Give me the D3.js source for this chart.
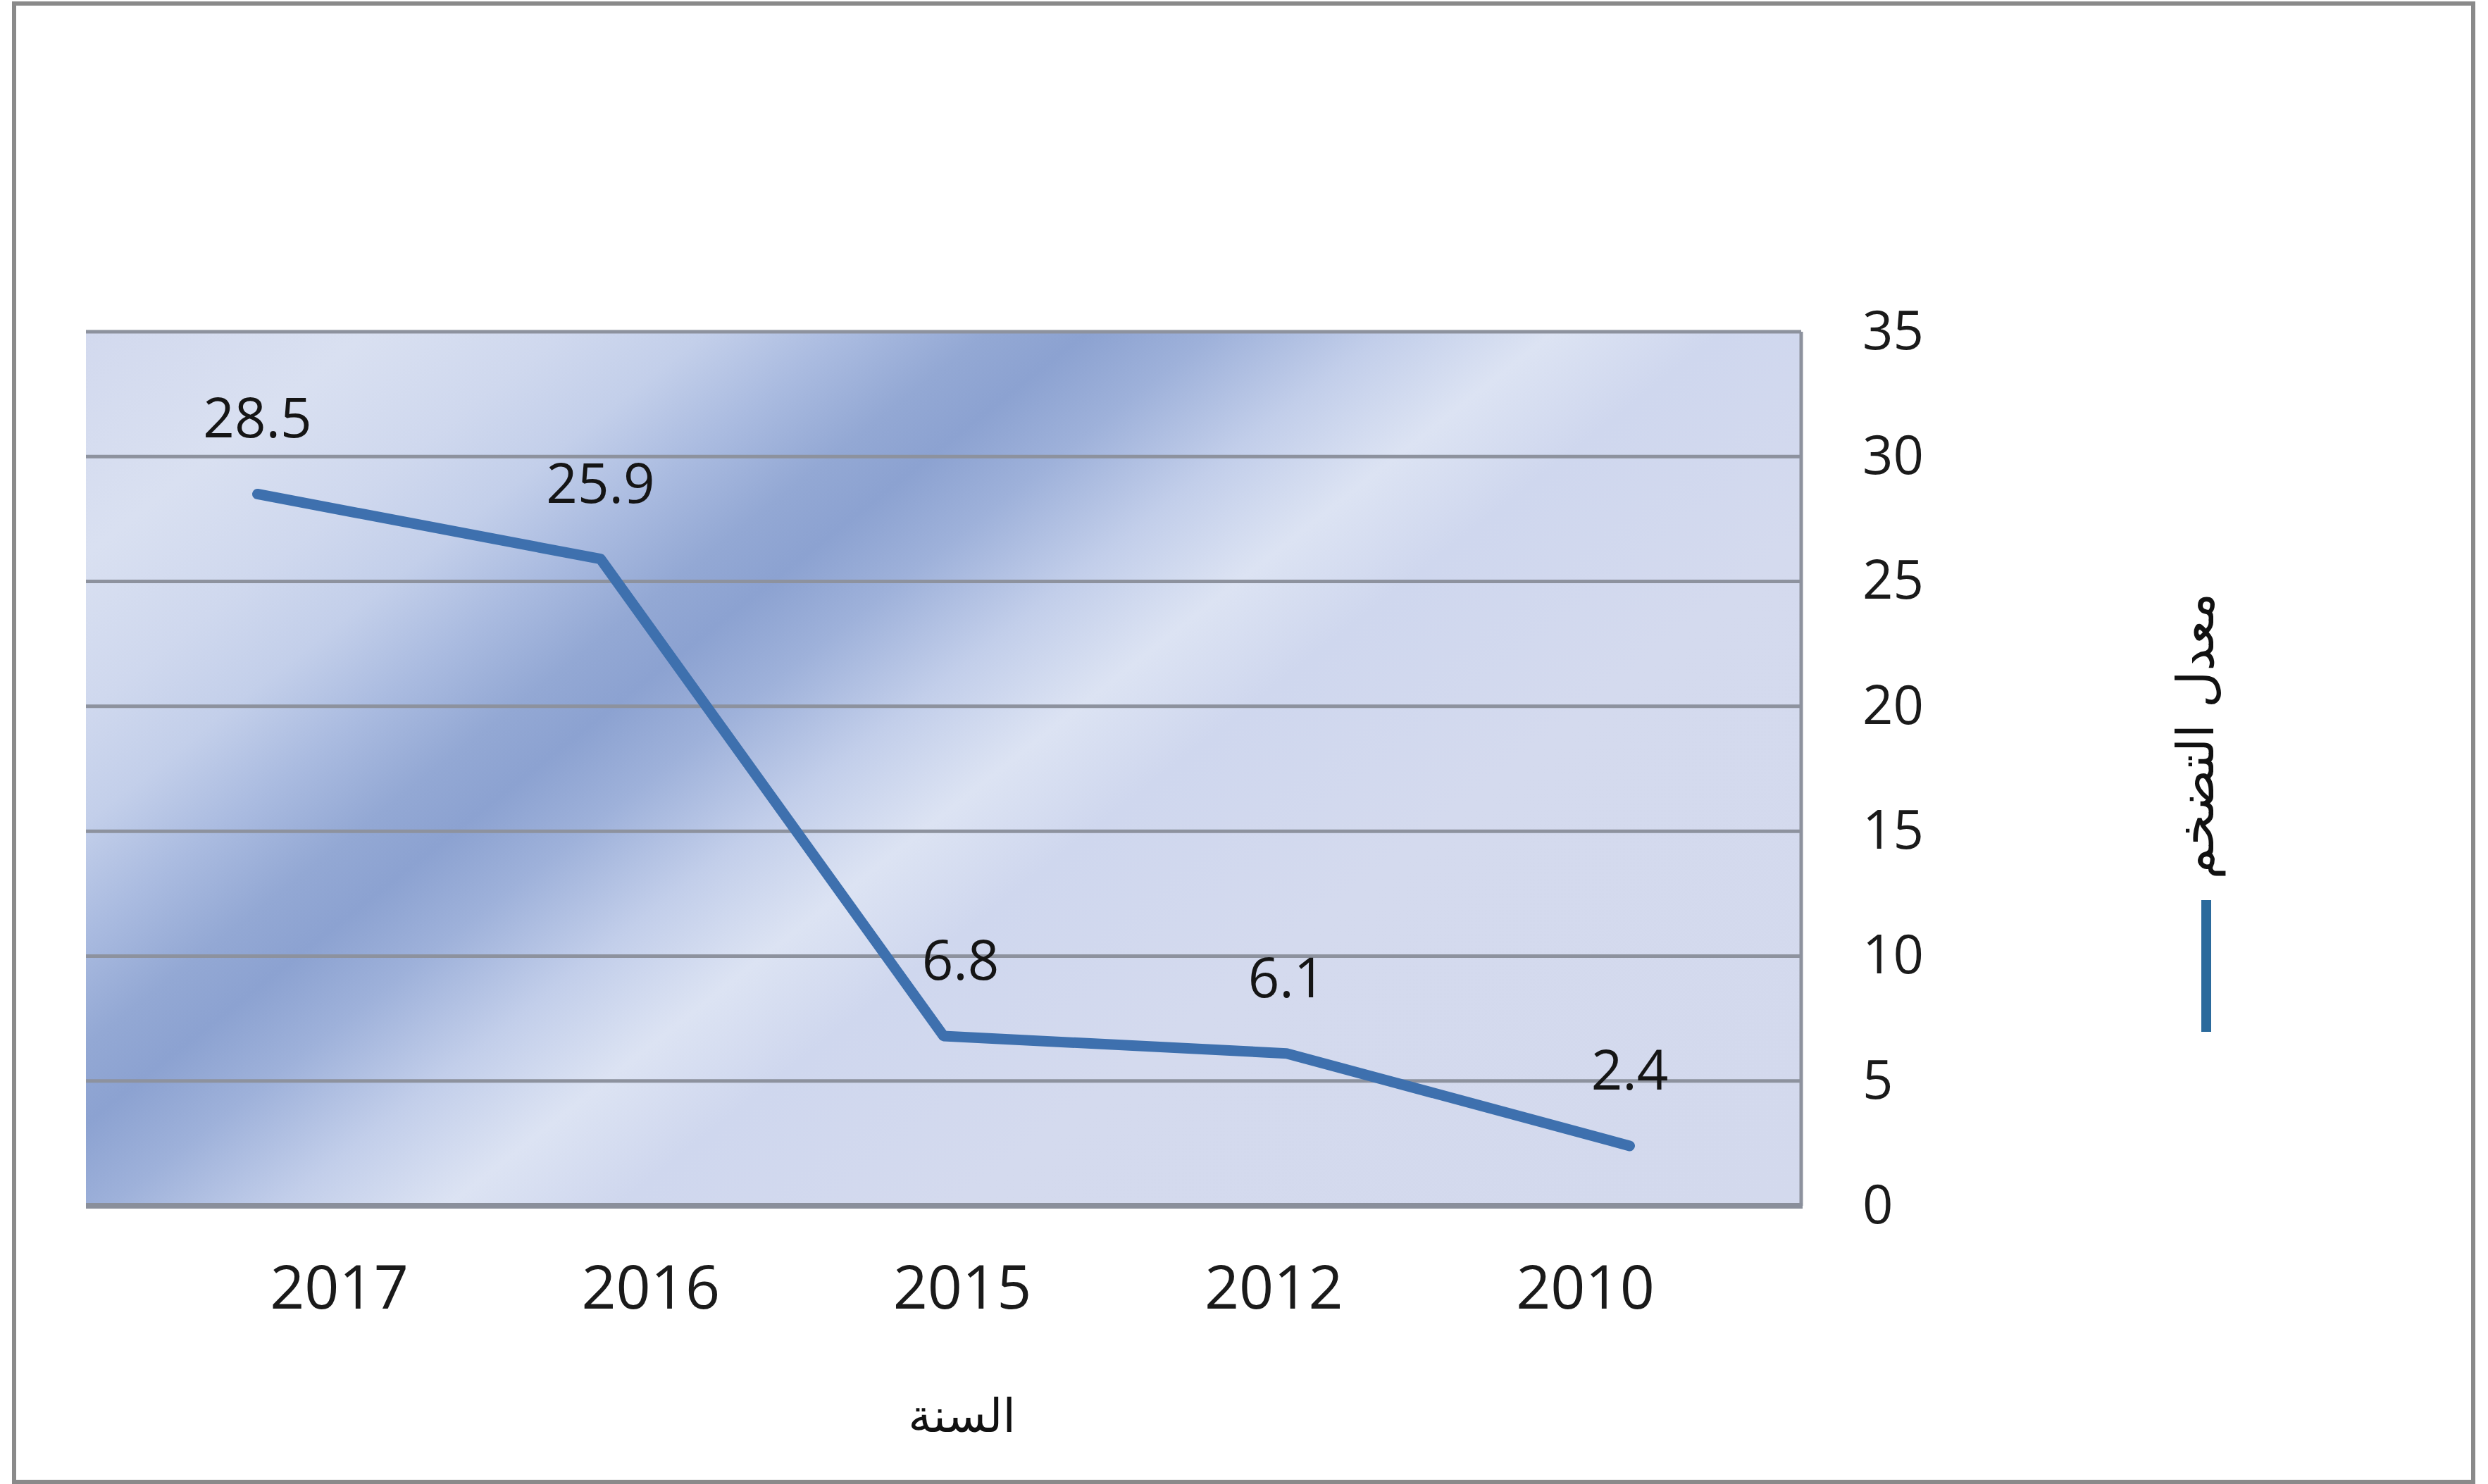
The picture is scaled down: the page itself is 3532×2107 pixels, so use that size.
<!DOCTYPE html>
<html>
<head>
<meta charset="utf-8">
<script src="https://cdn.jsdelivr.net/npm/d3@7"></script>
<style>
  html, body { margin: 0; padding: 0; background: #ffffff; }
  svg { display: block; }
</style>
</head>
<body>
<script>
// Inflation rate by year (labels and plotted values)
const years = ["2017", "2016", "2015", "2012", "2010"];
const inflation = [28.5, 25.9, 6.8, 6.1, 2.4];
const yTicks = [0, 5, 10, 15, 20, 25, 30, 35];
const seriesName = "معدل التضخم";
const xTitle = "السنة";

const W = 3532, H = 2107;
const plot = { left: 122, right: 2557, top: 471, bottom: 1712 };

const svg = d3.select("body").append("svg")
  .attr("width", W).attr("height", H);

// outer chart frame
svg.append("rect")
  .attr("x", 20).attr("y", 5)
  .attr("width", 3491).attr("height", 2099)
  .attr("fill", "#ffffff")
  .attr("stroke", "#8a8a8a")
  .attr("stroke-width", 6);

const x = d3.scaleBand().domain(years).range([plot.left, plot.right]).padding(0);
const xLabel = d3.scalePoint().domain(years).range([481, 2250]);
const y = d3.scaleLinear().domain([0, 35]).range([plot.bottom, plot.top]);

// diagonal multi-stop fill of the plot area
const defs = svg.append("defs");
const grad = defs.append("linearGradient")
  .attr("id", "plotFill")
  .attr("gradientUnits", "userSpaceOnUse")
  .attr("x1", plot.left).attr("y1", plot.top)
  .attr("x2", plot.left + 1540).attr("y2", plot.top + 1950);
[
  [0.00, "#d2d9ee"],
  [0.10, "#d9e0f1"],
  [0.17, "#cfd8ee"],
  [0.22, "#c3cfea"],
  [0.27, "#aabbe0"],
  [0.32, "#93a8d4"],
  [0.355, "#8ca2d1"],
  [0.40, "#9eb1da"],
  [0.46, "#c2ceea"],
  [0.52, "#dce3f3"],
  [0.58, "#cfd7ee"],
  [0.70, "#d4daee"],
  [1.00, "#d3d9ed"]
].forEach(([o, c]) => grad.append("stop").attr("offset", o).attr("stop-color", c));

svg.append("rect")
  .attr("x", plot.left).attr("y", plot.top)
  .attr("width", plot.right - plot.left).attr("height", plot.bottom - plot.top)
  .attr("fill", "url(#plotFill)");

// horizontal gridlines
svg.append("g").selectAll("line")
  .data(yTicks)
  .join("line")
  .attr("x1", plot.left).attr("x2", plot.right)
  .attr("y1", d => y(d)).attr("y2", d => y(d))
  .attr("stroke", "#8d929e")
  .attr("stroke-width", 5);

// plot frame (right edge and baseline)
svg.append("line")
  .attr("x1", plot.right).attr("x2", plot.right)
  .attr("y1", plot.top).attr("y2", plot.bottom)
  .attr("stroke", "#8d929e").attr("stroke-width", 5);
svg.append("line")
  .attr("x1", plot.left).attr("x2", plot.right + 2)
  .attr("y1", plot.bottom).attr("y2", plot.bottom)
  .attr("stroke", "#8a8f9b").attr("stroke-width", 8);

// y axis on the right
const yAxis = svg.append("g")
  .attr("transform", `translate(${plot.right},0)`)
  .call(d3.axisRight(y).tickValues(yTicks).tickSize(0).tickPadding(87));
yAxis.select(".domain").remove();
yAxis.selectAll("text")
  .attr("font-family", "'Open Sans', 'Noto Sans', sans-serif")
  .attr("font-size", 76)
  .attr("fill", "#1a1a1a");

// x axis labels
const xAxis = svg.append("g")
  .attr("transform", `translate(0,${plot.bottom})`)
  .call(d3.axisBottom(xLabel).tickSize(0).tickPadding(0));
xAxis.select(".domain").remove();
xAxis.selectAll("text")
  .attr("font-family", "'Open Sans', 'Noto Sans', sans-serif")
  .attr("font-size", 86)
  .attr("fill", "#1a1a1a")
  .attr("dy", null)
  .attr("y", 146);

// x axis title
svg.append("text")
  .attr("x", (xLabel(years[2])))
  .attr("y", 2033)
  .attr("text-anchor", "middle")
  .attr("font-family", "'DejaVu Sans', sans-serif")
  .attr("font-size", 66)
  .attr("fill", "#111")
  .text(xTitle);

// series line
const pts = years.map((yr, i) => ({ yr, v: inflation[i] }));
const line = d3.line()
  .x(d => x(d.yr) + x.bandwidth() / 2)
  .y(d => y(d.v));

svg.append("path")
  .datum(pts)
  .attr("d", line)
  .attr("fill", "none")
  .attr("stroke", "#3e70ae")
  .attr("stroke-width", 15)
  .attr("stroke-linejoin", "round")
  .attr("stroke-linecap", "round");

// value labels (the steep drop into 2015 gets its label nudged right)
svg.append("g").selectAll("text")
  .data(pts)
  .join("text")
  .attr("x", d => x(d.yr) + x.bandwidth() / 2 + (d.yr === "2015" ? 24 : 0))
  .attr("y", d => y(d.v) - 80)
  .attr("text-anchor", "middle")
  .attr("font-family", "'Open Sans', 'Noto Sans', sans-serif")
  .attr("font-size", 78)
  .attr("fill", "#151515")
  .text(d => d.v);

// legend (rotated)
const legend = svg.append("g");
legend.append("line")
  .attr("x1", 3132).attr("x2", 3132)
  .attr("y1", 1278).attr("y2", 1465)
  .attr("stroke", "#2b6a9c")
  .attr("stroke-width", 14);
legend.append("text")
  .attr("transform", "translate(3142,1045) rotate(-90)")
  .attr("text-anchor", "middle")
  .attr("font-family", "'DejaVu Sans', sans-serif")
  .attr("font-size", 72)
  .attr("fill", "#111")
  .text(seriesName);
</script>
</body>
</html>
